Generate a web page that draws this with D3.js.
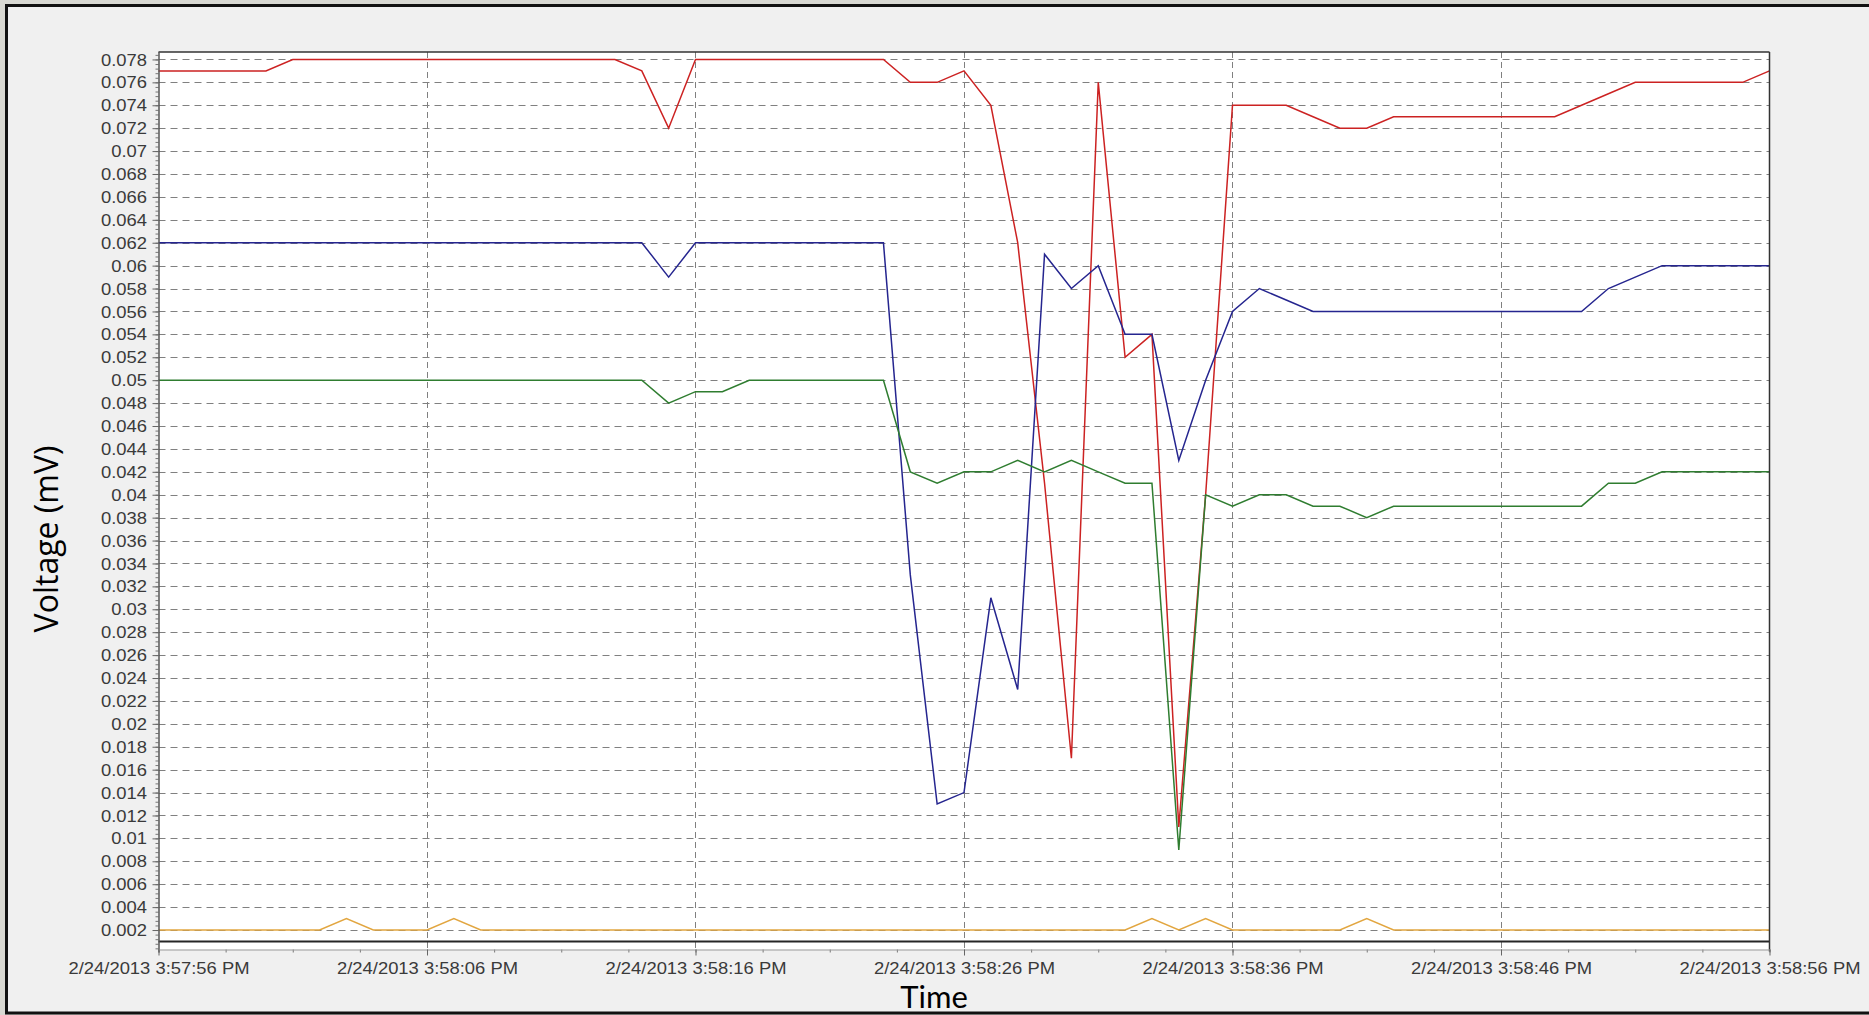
<!DOCTYPE html>
<html>
<head>
<meta charset="utf-8">
<script src="https://cdn.jsdelivr.net/npm/d3@7"></script>
<style>
	body { margin: 0; background: #d8d8d2; overflow: hidden; }
	svg { display: block; }
	.tick-label { font-family: "Liberation Sans", Arial, sans-serif; font-size: 16px; fill: #3a3a3a; }
	.title { font-family: "Open Sans", sans-serif; font-size: 32px; fill: #000; }
</style>
</head>
<body>
<svg id="chart" width="1869" height="1015"></svg>
<script>
/*********************
	Data (one sample per second)
**********************/
var start_time = "2/24/2013 3:57:56 PM";
var end_time = "2/24/2013 3:58:56 PM";

var x_tick_labels = ["2/24/2013 3:57:56 PM", "2/24/2013 3:58:06 PM", "2/24/2013 3:58:16 PM",
				"2/24/2013 3:58:26 PM", "2/24/2013 3:58:36 PM", "2/24/2013 3:58:46 PM",
				"2/24/2013 3:58:56 PM"];

var y_tick_values = [0.002, 0.004, 0.006, 0.008, 0.01, 0.012, 0.014, 0.016, 0.018, 0.02,
				0.022, 0.024, 0.026, 0.028, 0.03, 0.032, 0.034, 0.036, 0.038, 0.04,
				0.042, 0.044, 0.046, 0.048, 0.05, 0.052, 0.054, 0.056, 0.058, 0.06,
				0.062, 0.064, 0.066, 0.068, 0.07, 0.072, 0.074, 0.076, 0.078];

// t = 0 .. 60 s
var red_values = [0.077, 0.077, 0.077, 0.077, 0.077, 0.078, 0.078, 0.078, 0.078, 0.078,
				0.078, 0.078, 0.078, 0.078, 0.078, 0.078, 0.078, 0.078, 0.077, 0.072,
				0.078, 0.078, 0.078, 0.078, 0.078, 0.078, 0.078, 0.078, 0.076, 0.076,
				0.077, 0.074, 0.062, 0.041, 0.017, 0.076, 0.052, 0.054, 0.011, 0.040,
				0.074, 0.074, 0.074, 0.073, 0.072, 0.072, 0.073, 0.073, 0.073, 0.073,
				0.073, 0.073, 0.073, 0.074, 0.075, 0.076, 0.076, 0.076, 0.076, 0.076,
				0.077];

var blue_values = [0.062, 0.062, 0.062, 0.062, 0.062, 0.062, 0.062, 0.062, 0.062, 0.062,
				0.062, 0.062, 0.062, 0.062, 0.062, 0.062, 0.062, 0.062, 0.062, 0.059,
				0.062, 0.062, 0.062, 0.062, 0.062, 0.062, 0.062, 0.062, 0.033, 0.013,
				0.014, 0.031, 0.023, 0.061, 0.058, 0.060, 0.054, 0.054, 0.043, 0.050,
				0.056, 0.058, 0.057, 0.056, 0.056, 0.056, 0.056, 0.056, 0.056, 0.056,
				0.056, 0.056, 0.056, 0.056, 0.058, 0.059, 0.060, 0.060, 0.060, 0.060,
				0.060];

var green_values = [0.050, 0.050, 0.050, 0.050, 0.050, 0.050, 0.050, 0.050, 0.050, 0.050,
				0.050, 0.050, 0.050, 0.050, 0.050, 0.050, 0.050, 0.050, 0.050, 0.048,
				0.049, 0.049, 0.050, 0.050, 0.050, 0.050, 0.050, 0.050, 0.042, 0.041,
				0.042, 0.042, 0.043, 0.042, 0.043, 0.042, 0.041, 0.041, 0.009, 0.040,
				0.039, 0.040, 0.040, 0.039, 0.039, 0.038, 0.039, 0.039, 0.039, 0.039,
				0.039, 0.039, 0.039, 0.039, 0.041, 0.041, 0.042, 0.042, 0.042, 0.042,
				0.042];

var orange_values = [0.002, 0.002, 0.002, 0.002, 0.002, 0.002, 0.002, 0.003, 0.002, 0.002,
				0.002, 0.003, 0.002, 0.002, 0.002, 0.002, 0.002, 0.002, 0.002, 0.002,
				0.002, 0.002, 0.002, 0.002, 0.002, 0.002, 0.002, 0.002, 0.002, 0.002,
				0.002, 0.002, 0.002, 0.002, 0.002, 0.002, 0.002, 0.003, 0.002, 0.003,
				0.002, 0.002, 0.002, 0.002, 0.002, 0.003, 0.002, 0.002, 0.002, 0.002,
				0.002, 0.002, 0.002, 0.002, 0.002, 0.002, 0.002, 0.002, 0.002, 0.002,
				0.002];

var black_values = [0.001, 0.001, 0.001, 0.001, 0.001, 0.001, 0.001, 0.001, 0.001, 0.001,
				0.001, 0.001, 0.001, 0.001, 0.001, 0.001, 0.001, 0.001, 0.001, 0.001,
				0.001, 0.001, 0.001, 0.001, 0.001, 0.001, 0.001, 0.001, 0.001, 0.001,
				0.001, 0.001, 0.001, 0.001, 0.001, 0.001, 0.001, 0.001, 0.001, 0.001,
				0.001, 0.001, 0.001, 0.001, 0.001, 0.001, 0.001, 0.001, 0.001, 0.001,
				0.001, 0.001, 0.001, 0.001, 0.001, 0.001, 0.001, 0.001, 0.001, 0.001,
				0.001];

var series = [
	{"values": red_values, "color": "#cc2222", "width": 1.5},
	{"values": blue_values, "color": "#25258f", "width": 1.5},
	{"values": green_values, "color": "#2f7d30", "width": 1.5},
	{"values": orange_values, "color": "#e2a640", "width": 1.5},
	{"values": black_values, "color": "#262626", "width": 2}
];


/*********************
	Layout
**********************/
var plot_left = 158.5;
var plot_right = 1769.5;
var plot_top = 52;
var plot_bottom = 949.5;

var parseTime = d3.timeParse("%m/%d/%Y %I:%M:%S %p");
var formatTime = d3.timeFormat("%-m/%-d/%Y %-I:%M:%S %p");
var t0 = parseTime(start_time);

var x = d3.scaleTime()
	.domain([t0, parseTime(end_time)])
	.range([plot_left, plot_right]);

var y = d3.scaleLinear()
	.domain([0.0003, 0.07865])
	.range([plot_bottom, plot_top]);

function sampleTime(i){
	return d3.timeSecond.offset(t0, i);
}

var svg = d3.select("#chart");


/*********************
	Background / frame
**********************/
svg.append("rect")
	.attr("width", 1869).attr("height", 1015)
	.attr("fill", "#d8d8d2");

svg.append("rect")
	.attr("x", 6.5).attr("y", 5.5)
	.attr("width", 1875).attr("height", 1007.5)
	.attr("fill", "#f0f0f0")
	.attr("stroke", "#111")
	.attr("stroke-width", 3);

svg.append("rect")
	.attr("x", plot_left).attr("y", plot_top)
	.attr("width", plot_right - plot_left).attr("height", plot_bottom - plot_top)
	.attr("fill", "#fff");


/*********************
	Grid
**********************/
var x_ticks = x_tick_labels.map(parseTime);

svg.append("g")
	.selectAll("line")
	.data(y_tick_values)
	.join("line")
	.attr("x1", plot_left).attr("x2", plot_right)
	.attr("y1", d => Math.round(y(d)) + 0.5).attr("y2", d => Math.round(y(d)) + 0.5)
	.attr("stroke", "#808080")
	.attr("stroke-width", 1)
	.attr("stroke-dasharray", "7,5");

svg.append("g")
	.selectAll("line")
	.data(x_ticks.slice(1, -1))
	.join("line")
	.attr("x1", d => Math.round(x(d)) + 0.5).attr("x2", d => Math.round(x(d)) + 0.5)
	.attr("y1", plot_top).attr("y2", plot_bottom)
	.attr("stroke", "#808080")
	.attr("stroke-width", 1)
	.attr("stroke-dasharray", "6,4");


/*********************
	Series
**********************/
var line = d3.line()
	.x((d, i) => x(sampleTime(i)))
	.y(d => y(d));

svg.append("g")
	.selectAll("path")
	.data(series)
	.join("path")
	.attr("d", d => line(d.values))
	.attr("fill", "none")
	.attr("stroke", d => d.color)
	.attr("stroke-width", d => d.width)
	.attr("stroke-linejoin", "miter");


/*********************
	Axes
**********************/
// plot frame: top + right dark, bottom light
svg.append("line")
	.attr("x1", plot_left).attr("x2", plot_right)
	.attr("y1", plot_top).attr("y2", plot_top)
	.attr("stroke", "#333").attr("stroke-width", 1.5);
svg.append("line")
	.attr("x1", plot_right).attr("x2", plot_right)
	.attr("y1", plot_top).attr("y2", plot_bottom + 2)
	.attr("stroke", "#333").attr("stroke-width", 1.5);

// minor y ticks
var y_minor = d3.range(0.0004, 0.0786, 0.0004);
svg.append("g")
	.attr("transform", "translate(" + plot_left + ",0)")
	.call(d3.axisLeft(y).tickValues(y_minor).tickSize(3).tickFormat("").tickSizeOuter(0))
	.call(g => g.select(".domain").remove())
	.call(g => g.selectAll("line").attr("stroke", "#777"));

var y_axis = svg.append("g")
	.attr("transform", "translate(" + plot_left + ",0)")
	.call(d3.axisLeft(y).tickValues(y_tick_values).tickSize(6).tickSizeOuter(0)
		.tickFormat(d => String(+d.toFixed(3))));

y_axis.select(".domain").attr("stroke", "#555").attr("stroke-width", 1.5)
	.attr("d", "M0.5," + plot_top + "V" + (plot_bottom + 3));
y_axis.selectAll("line").attr("stroke", "#666");
y_axis.selectAll("text")
	.attr("class", "tick-label")
	.attr("x", 0)
	.attr("dy", "0.35em")
	.attr("transform", "translate(-11.5,0) scale(1.15,1)");

// minor x ticks every 2.5 s
var x_minor = d3.range(0, 60001, 2500).map(ms => new Date(+t0 + ms));
svg.append("g")
	.attr("transform", "translate(0," + plot_bottom + ")")
	.call(d3.axisBottom(x).tickValues(x_minor).tickSize(3).tickFormat("").tickSizeOuter(0))
	.call(g => g.select(".domain").remove())
	.call(g => g.selectAll("line").attr("stroke", "#777"));

var x_axis = svg.append("g")
	.attr("transform", "translate(0," + plot_bottom + ")")
	.call(d3.axisBottom(x).tickValues(x_ticks).tickSize(6).tickSizeOuter(0).tickFormat(formatTime));

x_axis.select(".domain").attr("stroke", "#9a9a9a").attr("stroke-width", 1);
x_axis.selectAll("line").attr("stroke", "#666");
x_axis.selectAll("text")
	.attr("class", "tick-label")
	.attr("y", 0)
	.attr("dy", 0)
	.attr("transform", "translate(0,24) scale(1.15,1)");


/*********************
	Titles
**********************/
svg.append("text")
	.attr("class", "title")
	.attr("text-anchor", "middle")
	.attr("transform", "translate(58,539) rotate(-90)")
	.text("Voltage (mV)");

// tight spot between tick labels and frame: Lato has a shorter line box
svg.append("text")
	.attr("class", "title")
	.attr("text-anchor", "middle")
	.attr("x", 934)
	.attr("y", 1007.5)
	.style("font-family", "Lato, sans-serif")
	.style("font-size", "31px")
	.text("Time");
</script>
</body>
</html>
